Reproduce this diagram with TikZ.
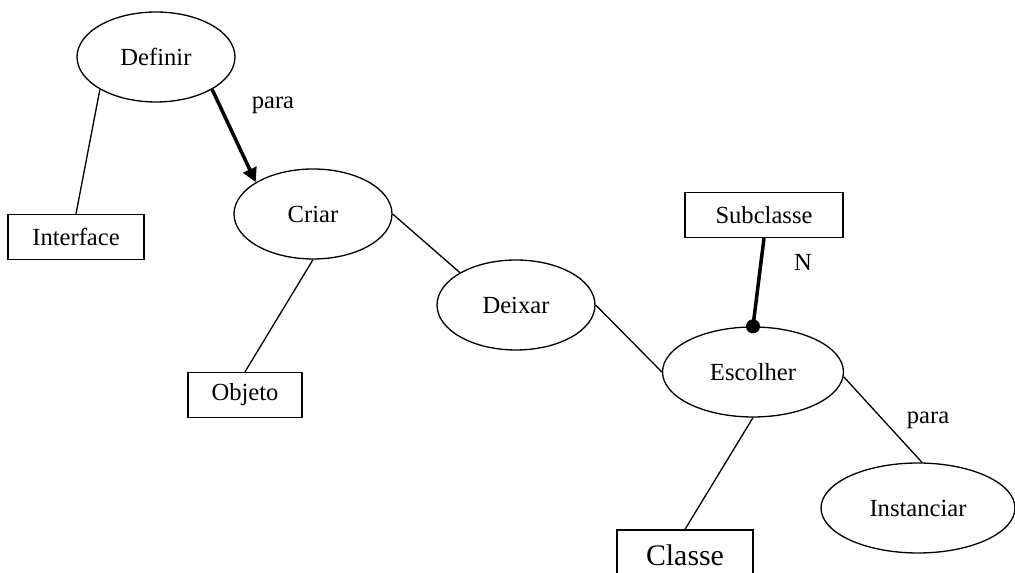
\documentclass[tikz,border=0pt]{standalone}
\usepackage{fontspec}
\setmainfont{Liberation Serif}
\usetikzlibrary{shapes.geometric,arrows.meta}

\begin{document}
\begin{tikzpicture}[
    x=0.02cm, y=-0.02cm,
    verbo/.style={ellipse, draw, line width=0.75pt,
                  minimum width=3.16cm, minimum height=1.8cm, inner sep=0pt,
                  font=\fontsize{14}{17}\selectfont},
    caixa/.style={rectangle, draw, line width=0.75pt,
                  minimum width=2.72cm, minimum height=0.9cm, inner sep=0pt,
                  font=\fontsize{14}{17}\selectfont},
    rotulo/.style={font=\fontsize{14}{17}\selectfont},
    liga/.style={line width=0.75pt},
    forte/.style={line width=2pt},
    seta/.style={-{Triangle[length=8pt, width=8pt]}, line width=2pt}
]
    \useasboundingbox (0,0) rectangle (1015,573);
    \clip (0,0) rectangle (1015,573);

    % Left part
    \node[verbo] (definir) at (156,57) {Definir};
    \node[caixa] (interface) at (76,237) {Interface};
    \node[verbo] (criar) at (313,214) {Criar};
    \node[caixa, minimum width=2.28cm] (objeto) at (245,395) {Objeto};
    \node[rotulo] (para1) at (273,105) {para};

    \draw[liga] (interface.north) -- (definir.210);
    \draw[seta] (definir.330) -- (criar.151);
    \draw[liga] (criar.south) -- (objeto.north);

    % Middle
    \node[verbo] (deixar) at (516,305) {Deixar};
    \draw[liga] (criar.east) -- (deixar.150);

    % Right part
    \node[verbo, minimum width=3.62cm] (escolher) at (753,372) {Escolher};
    \node[caixa, minimum width=3.16cm] (subclasse) at (764,215) {Subclasse};
    \node[caixa, minimum height=1cm, font=\fontsize{17}{20}\selectfont] (classe) at (685,555) {Classe};
    \node[verbo, minimum width=3.88cm] (instanciar) at (918,508) {Instanciar};
    \node[rotulo] (n) at (803,262) {N};
    \node[rotulo] (para2) at (928,420) {para};

    \draw[liga] (deixar.east) -- (escolher.west);
    \draw[forte] (subclasse.south) -- (escolher.north);
    \fill (escolher.north) circle (4pt);
    \draw[liga] (escolher.south) -- (classe.north);
    \draw[liga] (escolher.357) -- (instanciar.85);
\end{tikzpicture}
\end{document}
